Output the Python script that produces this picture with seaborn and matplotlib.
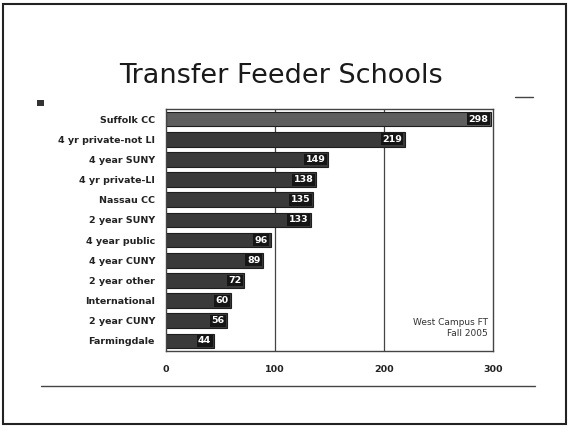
import matplotlib
matplotlib.use('Agg')
import matplotlib.pyplot as plt
import matplotlib.patches as patches
import matplotlib.lines as mlines
import seaborn as sns
import pandas as pd

schools = ['Suffolk CC', '4 yr private-not LI', '4 year SUNY', '4 yr private-LI',
           'Nassau CC', '2 year SUNY', '4 year public', '4 year CUNY',
           '2 year other', 'International', '2 year CUNY', 'Farmingdale']
students = [298, 219, 149, 138, 135, 133, 96, 89, 72, 60, 56, 44]
x_ticks = [0, 100, 200, 300]

df = pd.DataFrame({'School': schools, 'Students': students})

sns.set_style('white')
plt.rcParams['font.family'] = ['DejaVu Sans']

fig = plt.figure(figsize=(5.73, 4.28), dpi=100)
ax = fig.add_axes([0.2897, 0.1799, 0.5707, 0.5654])

bar_colors = ['#5e5e5e'] + ['#3a3a3a'] * (len(schools) - 1)
sns.barplot(data=df, x='Students', y='School', hue='School', palette=bar_colors,
            legend=False, orient='h', width=0.72, edgecolor='#1e1e1e', linewidth=0.8, ax=ax)

ax.set_xlim(0, 300)
ax.set_xticks(x_ticks)
ax.set_xticklabels([str(t) for t in x_ticks], fontsize=6.8, fontweight='bold', color='#222222')
ax.set_yticks(range(len(schools)))
ax.set_yticklabels(schools, fontsize=6.8, fontweight='bold', color='#222222')
ax.tick_params(axis='x', length=0, pad=10)
ax.tick_params(axis='y', length=0, pad=8)
ax.set_xlabel('')
ax.set_ylabel('')

for v in [100, 200]:
    ax.axvline(v, color='#444444', lw=0.9, zorder=0)
for s in ax.spines.values():
    s.set_visible(True)
    s.set_color('#444444')
    s.set_linewidth(1.0)

for i, v in enumerate(students):
    ax.text(v - 2.5, i, str(v), ha='right', va='center', fontsize=6.8, fontweight='bold',
            color='white', bbox=dict(boxstyle='square,pad=0.15', fc='#151515', ec='none'))

ax.text(0.985, 0.055, 'West Campus FT\nFall 2005', transform=ax.transAxes, ha='right',
        va='bottom', fontsize=6.5, color='#333333', linespacing=1.3, multialignment='right')

fig.text(0.49, 0.822, 'Transfer Feeder Schools', ha='center', va='center', fontsize=19.5,
         color='#1a1a1a')

# slide decorations
fig.patches.append(patches.Rectangle((3 / 573, 4 / 428), 563 / 573, 420 / 428,
                                     transform=fig.transFigure, fill=False,
                                     ec='#222222', lw=1.5))
fig.patches.append(patches.Rectangle((37 / 573, 1 - 106 / 428), 7 / 573, 6 / 428,
                                     transform=fig.transFigure, fc='#333333', ec='none'))
fig.lines.append(mlines.Line2D([515 / 573, 533 / 573], [1 - 97 / 428, 1 - 97 / 428],
                               transform=fig.transFigure, color='#444444', lw=1))
fig.lines.append(mlines.Line2D([41 / 573, 535 / 573], [1 - 386 / 428, 1 - 386 / 428],
                               transform=fig.transFigure, color='#444444', lw=1))

fig.savefig('out.png', dpi=100)
